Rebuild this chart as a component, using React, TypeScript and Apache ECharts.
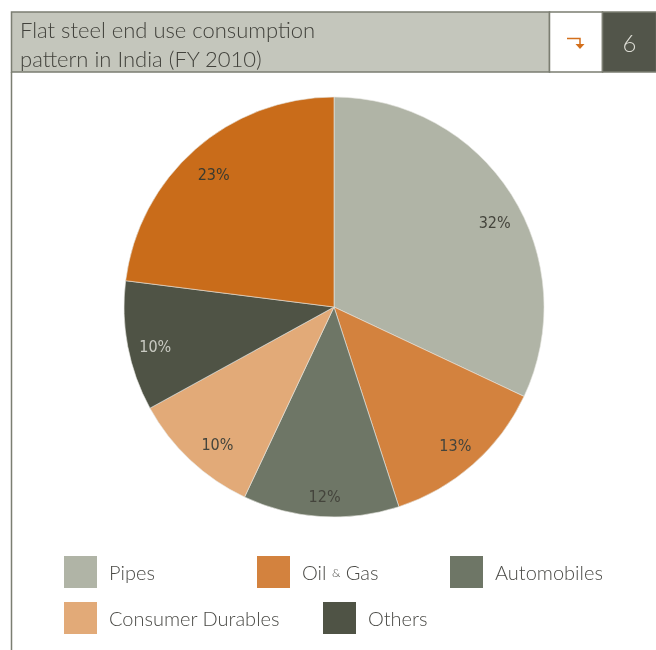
import React, { useEffect, useRef } from "react";
import * as echarts from "echarts";

const categories = ["Pipes", "Oil & Gas", "Automobiles", "Consumer Durables", "Others", "Unlabelled"];
const shares = [32, 13, 12, 10, 10, 23];
const colors = ["#b0b4a6", "#d3823e", "#6e7666", "#e2aa78", "#4f5345", "#c96c1a"];
const labelColors = ["#44443c", "#44443c", "#44443c", "#44443c", "#c9cac2", "#3a3a30"];
const labelOffsets = [[7, 13], [1, 2], [2, 8], [8, 5], [0, 5], [0, 4]];
const legendNames = ["Pipes", "Oil & Gas", "Automobiles", "Consumer Durables", "Others"];
const titleLines = ["Flat steel end use consumption", "pattern in India (FY 2010)"];
const pageNumber = "6";

export default function App() {
  const ref = useRef<HTMLDivElement>(null);
  useEffect(() => {
    if (!ref.current) return;
    const chart = echarts.init(ref.current, null, { renderer: "svg" });
    const data = categories.map((name, i) => ({
      name,
      value: shares[i],
      itemStyle: { color: colors[i] },
    }));
    const legendPos = [
      { left: 64, top: 556 },
      { left: 257, top: 556 },
      { left: 450, top: 556 },
      { left: 64, top: 602 },
      { left: 323, top: 602 },
    ];
    const font = "Lato, 'Open Sans', sans-serif";
    const legends = legendNames.map((n, i) => ({
      data: [n],
      left: legendPos[i].left,
      top: legendPos[i].top,
      itemWidth: 33,
      itemHeight: 32,
      itemGap: 0,
      padding: 0,
      icon: "rect",
      selectedMode: false,
      itemStyle: { borderWidth: 0 },
      formatter: (name: string) => (name === "Oil & Gas" ? "Oil {s|&} Gas" : name),
      textStyle: {
        fontSize: 20,
        fontWeight: 300,
        color: "#4a4a46",
        fontFamily: font,
        padding: [0, 0, 0, 7],
        rich: { s: { fontSize: 12, color: "#4a4a46", fontFamily: font, fontWeight: 300 } },
      },
    }));
    chart.setOption({
      animation: false,
      legend: legends,
      graphic: [
        { type: "rect", shape: { x: 11.5, y: 12, width: 538, height: 60 }, style: { fill: "#c4c6bc", stroke: "#7b7e72", lineWidth: 1.5 } },
        { type: "rect", shape: { x: 549.5, y: 12, width: 53, height: 60 }, style: { fill: "#ffffff", stroke: "#7b7e72", lineWidth: 1.5 } },
        { type: "rect", shape: { x: 602.5, y: 12, width: 54, height: 60 }, style: { fill: "#52554a", stroke: "#7b7e72", lineWidth: 1.5 } },
        { type: "line", shape: { x1: 11.5, y1: 72, x2: 11.5, y2: 650 }, style: { stroke: "#7b7e72", lineWidth: 1.5 } },
        { type: "text", x: 20, y: 29, style: { text: titleLines[0], fontSize: 22, fontWeight: 300, fill: "#42423c", fontFamily: font, verticalAlign: "middle" } },
        { type: "text", x: 20, y: 58, style: { text: titleLines[1], fontSize: 22, fontWeight: 300, fill: "#42423c", fontFamily: font, verticalAlign: "middle" } },
        { type: "polyline", shape: { points: [[567, 38.5], [580, 38.5], [580, 44]] }, style: { stroke: "#d36f1c", lineWidth: 1.5, fill: "none" } },
        { type: "polygon", shape: { points: [[575.5, 44], [584.5, 44], [580, 49]] }, style: { fill: "#d36f1c" } },
        { type: "text", x: 629.5, y: 42, style: { text: pageNumber, fontSize: 24, fontWeight: 300, fill: "#dcdcd4", fontFamily: font, align: "center", verticalAlign: "middle" } },
      ],
      series: [
        {
          type: "pie",
          center: [334, 307],
          radius: 210,
          startAngle: 90,
          clockwise: true,
          silent: true,
          label: { show: false },
          labelLine: { show: false },
          itemStyle: { borderColor: "#e6e6e0", borderWidth: 0.6 },
          data,
        },
        {
          type: "pie",
          center: [334, 307],
          radius: [148, 210],
          startAngle: 90,
          clockwise: true,
          silent: true,
          legendHoverLink: false,
          itemStyle: { color: "rgba(0,0,0,0)" },
          labelLine: { show: false },
          label: {
            show: true,
            position: "inside",
            formatter: "{c}%",
            fontSize: 16,
            fontFamily: "'DejaVu Sans Condensed', sans-serif",
          },
          data: categories.map((name, i) => ({
            name: name + " ",
            value: shares[i],
            itemStyle: { color: "rgba(0,0,0,0)" },
            label: { color: labelColors[i], offset: labelOffsets[i] },
          })),
        },
      ],
    });
    return () => chart.dispose();
  }, []);
  return <div ref={ref} style={{ position: "fixed", left: 0, top: 0, width: 656, height: 650 }} />;
}
